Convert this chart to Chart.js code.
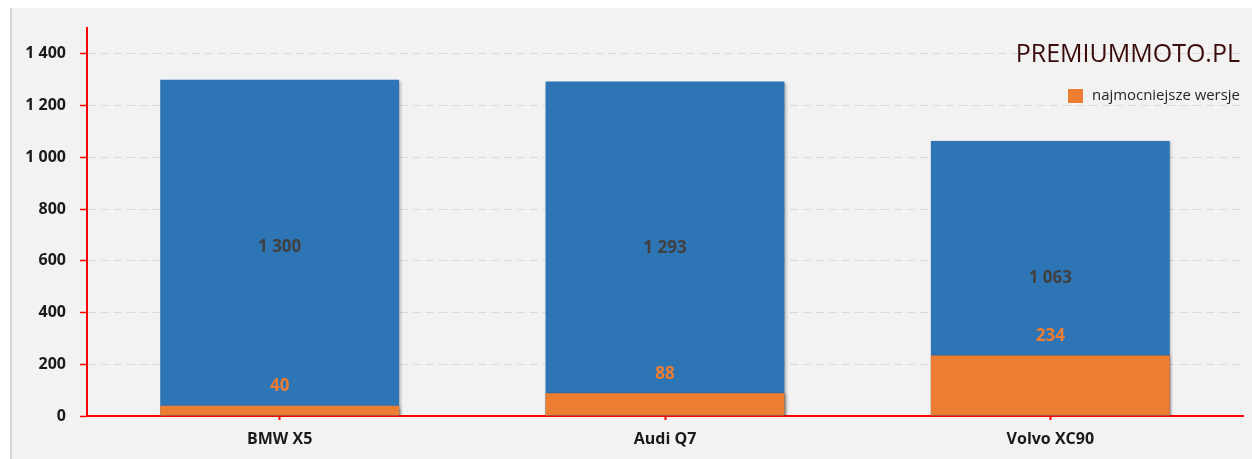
<!DOCTYPE html>
<html>
<head>
<meta charset="utf-8">
<script src="https://cdn.jsdelivr.net/npm/chart.js@4.4.1/dist/chart.umd.min.js"></script>
<style>
  body { margin: 0; background: #fff; }
  #wrap { position: absolute; left: 10px; top: 8px; width: 1242px; height: 451px; background: #f2f2f2; box-shadow: inset 2px 0 0 #d4d4d4; }
</style>
</head>
<body>
<div id="wrap"><canvas id="carChart"></canvas></div>
<script>
// models and values
var models = ['BMW X5', 'Audi Q7', 'Volvo XC90'];
var allVersions = [1300, 1293, 1063];
var strongestVersions = [40, 88, 234];
var yTicks = [0, 200, 400, 600, 800, 1000, 1200, 1400];

var brandText = 'PREMIUMMOTO.PL';
var legendText = 'najmocniejsze wersje';

var blue = '#2E75B6', orange = '#ED7D31';
var fontFamily = '"Open Sans", "Noto Sans", sans-serif';

function fmt(v) {
    return String(v).replace(/\B(?=(\d{3})+(?!\d))/g, ' ');
}

// soft shadow under the bars
var barShadow = {
    id: 'barShadow',
    beforeDatasetsDraw: function (chart) {
        var ctx = chart.ctx;
        ctx.save();
        ctx.shadowColor = 'rgba(0,0,0,0.3)';
        ctx.shadowBlur = 3;
        ctx.shadowOffsetX = 1.5;
        ctx.shadowOffsetY = 1;
    },
    afterDatasetsDraw: function (chart) {
        chart.ctx.restore();
    }
};

// value labels on the bars
var valueLabels = {
    id: 'valueLabels',
    afterDatasetsDraw: function (chart) {
        var ctx = chart.ctx;
        ctx.save();
        ctx.textAlign = 'center';
        ctx.textBaseline = 'middle';
        ctx.font = 'bold 17px ' + fontFamily;
        chart.getDatasetMeta(1).data.forEach(function (bar, i) {
            ctx.fillStyle = '#404040';
            ctx.fillText(fmt(allVersions[i]), bar.x, (bar.y + bar.base) / 2);
        });
        chart.getDatasetMeta(0).data.forEach(function (bar, i) {
            ctx.fillStyle = orange;
            ctx.fillText(fmt(strongestVersions[i]), bar.x, bar.y - 19);
        });
        ctx.restore();
    }
};

// brand name and the single legend entry in the top right corner
var brandLegend = {
    id: 'brandLegend',
    afterDraw: function (chart) {
        var ctx = chart.ctx;
        var right = chart.chartArea.right - 3;
        ctx.save();
        ctx.textAlign = 'right';
        ctx.textBaseline = 'middle';
        ctx.fillStyle = '#3a0b0b';
        ctx.font = '25px ' + fontFamily;
        ctx.fillText(brandText, right, 47, 228);

        ctx.font = '15px ' + fontFamily;
        ctx.fillStyle = '#262626';
        ctx.fillText(legendText, right, 88, 148);
        var w = Math.min(ctx.measureText(legendText).width, 148);
        var ds = chart.data.datasets[0];
        ctx.fillStyle = ds.backgroundColor;
        ctx.fillRect(right - w - 24, 81, 15, 14);
        ctx.restore();
    }
};

var ctx = document.getElementById('carChart').getContext('2d');
var chart = new Chart(ctx, {
    type: 'bar',
    data: {
        labels: models,
        datasets: [{
            label: legendText,
            data: strongestVersions,
            backgroundColor: orange,
            barPercentage: 0.62,
            categoryPercentage: 1
        }, {
            label: 'wszystkie wersje',
            data: allVersions,
            backgroundColor: blue,
            barPercentage: 0.62,
            categoryPercentage: 1
        }]
    },
    options: {
        responsive: true,
        maintainAspectRatio: false,
        animation: false,
        layout: { padding: { top: 20, right: 9, left: 0, bottom: 0 } },
        scales: {
            x: {
                stacked: true, // overlay the two bars in one slot
                afterFit: function (s) { s.height = 43; s.paddingLeft = 0; s.paddingRight = 0; },
                grid: {
                    offset: false,
                    drawOnChartArea: false,
                    tickColor: '#ff0000',
                    tickLength: 4,
                    tickWidth: 2
                },
                border: { color: '#ff0000', width: 2 },
                ticks: {
                    padding: 10,
                    color: '#1a1a1a',
                    font: { family: fontFamily, size: 16, weight: 'bold' }
                }
            },
            y: {
                stacked: false,
                min: 0,
                max: 1500,
                afterFit: function (s) { s.width = 77; s.paddingTop = 0; s.paddingBottom = 0; },
                afterBuildTicks: function (axis) {
                    axis.ticks = yTicks.map(function (v) { return { value: v }; });
                },
                grid: {
                    color: function (c) { return c.tick && c.tick.value === 0 ? 'rgba(0,0,0,0)' : '#d9d9d9'; },
                    tickColor: '#ff0000',
                    tickLength: 7,
                    tickWidth: 1.5
                },
                border: { color: '#ff0000', width: 2, dash: [8, 5] },
                ticks: {
                    padding: 14,
                    color: '#1a1a1a',
                    font: { family: fontFamily, size: 16, weight: 'bold' },
                    callback: function (v) { return fmt(v); }
                }
            }
        },
        plugins: {
            legend: { display: false },
            tooltip: { enabled: false }
        }
    },
    plugins: [barShadow, valueLabels, brandLegend]
});
</script>
</body>
</html>
